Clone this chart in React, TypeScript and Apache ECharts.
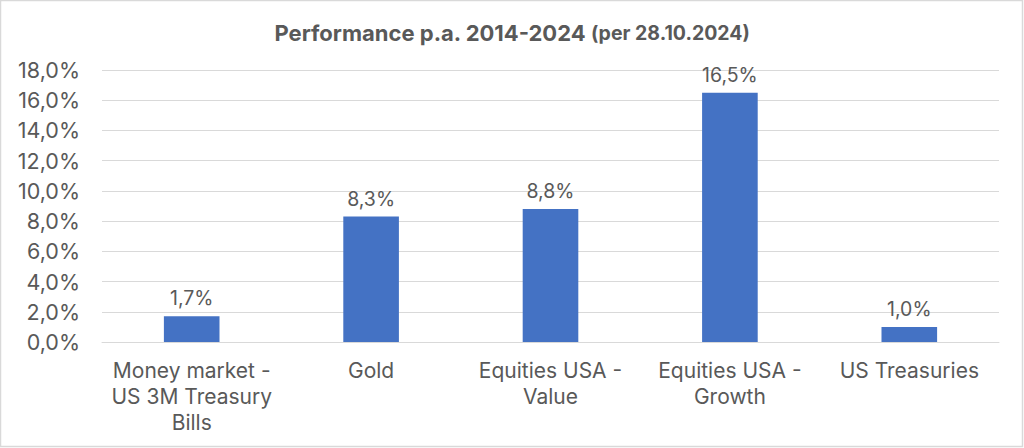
import React, { useEffect, useRef } from "react";
import * as echarts from "echarts";

const categories = [
  "Money market -\nUS 3M Treasury\nBills",
  "Gold",
  "Equities USA -\nValue",
  "Equities USA -\nGrowth",
  "US Treasuries",
];
const values = [1.7, 8.3, 8.8, 16.5, 1.0];
const titleMain = "Performance p.a. 2014-2024";
const titleSub = "(per 28.10.2024)";

const fmt = (v: number) => v.toFixed(1).replace(".", ",") + "%";
const FONT = "Inter";
const GRAY = "#595959";

export default function App() {
  const ref = useRef<HTMLDivElement>(null);
  useEffect(() => {
    document.body.style.margin = "0";
    const chart = echarts.init(ref.current!, undefined, { renderer: "svg" });
    chart.setOption({
      animation: false,
      backgroundColor: "#ffffff",
      title: {
        text: `{a|${titleMain}} {b|${titleSub}}`,
        left: "center",
        top: 17,
        textStyle: {
          rich: {
            a: { fontFamily: FONT, fontSize: 22, fontWeight: "bold", color: GRAY },
            b: { fontFamily: FONT, fontSize: 19.5, fontWeight: "bold", color: GRAY },
          },
        },
      },
      grid: { left: 102, right: 25, top: 70, bottom: 106, containLabel: false },
      xAxis: {
        type: "category",
        data: categories,
        axisLine: { lineStyle: { color: "#d9d9d9" } },
        axisTick: { show: false },
        axisLabel: {
          fontFamily: FONT,
          fontSize: 21,
          color: GRAY,
          lineHeight: 26,
          margin: 15,
          interval: 0,
        },
      },
      yAxis: {
        type: "value",
        min: 0,
        max: 18,
        interval: 2,
        axisLabel: {
          fontFamily: FONT,
          fontSize: 21.5,
          color: GRAY,
          margin: 22,
          formatter: (v: number) => fmt(v),
        },
        splitLine: { lineStyle: { color: "#d9d9d9" } },
        axisLine: { show: false },
        axisTick: { show: false },
      },
      series: [
        {
          type: "bar",
          data: values,
          barWidth: "31%",
          itemStyle: { color: "#4472C4" },
          label: {
            show: true,
            position: "top",
            distance: 8,
            fontFamily: FONT,
            fontSize: 19.5,
            color: GRAY,
            formatter: (p: any) => fmt(p.value),
          },
        },
      ],
      graphic: [
        {
          type: "rect",
          shape: { x: 0.5, y: 0.5, width: 1022, height: 446 },
          style: { fill: "none", stroke: "#d9d9d9", lineWidth: 1.5 },
          silent: true,
        },
      ],
    });
    return () => chart.dispose();
  }, []);
  return <div ref={ref} style={{ width: 1024, height: 448 }} />;
}
